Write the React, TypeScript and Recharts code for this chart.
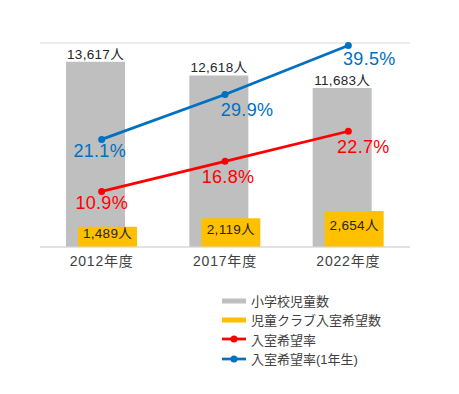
import { ComposedChart, Bar, Line, XAxis, YAxis, CartesianGrid, LabelList, Legend } from 'recharts';

// 年度ごとの児童数と入室希望率
const years = ['2012年度', '2017年度', '2022年度'];
const pupils = [13617, 12618, 11683];
const clubApplicants = [1489, 2119, 2654];
const applyRate = [10.9, 16.8, 22.7];
const applyRateFirst = [21.1, 29.9, 39.5];

const seriesNames = ['小学校児童数', '児童クラブ入室希望数', '入室希望率', '入室希望率(1年生)'];
const countTicks = [0, 3000, 6000, 9000, 12000, 15000];

// label nudges (as placed by hand in the original)
const redNudge = [{ dx: 0, dy: 12 }, { dx: 3, dy: 16 }, { dx: 15, dy: 16 }];
const blueNudge = [{ dx: -2, dy: 12 }, { dx: 22, dy: 15 }, { dx: 21, dy: 13 }];

const GRAY = '#bfbfbf';
const YELLOW = '#ffc000';
const RED = '#ff0000';
const BLUE = '#0070c0';
const FONT = '"Liberation Sans", Arial, "Noto Sans CJK JP", sans-serif';

const data = years.map((year, i) => ({
  year,
  pupils: pupils[i],
  club: clubApplicants[i],
  rate: applyRate[i],
  rateFirst: applyRateFirst[i],
}));

const fmt = (v: number) => v.toLocaleString('en-US') + '人';

function rateLabel(color: string, nudge: { dx: number; dy: number }[], values: number[]) {
  return (props: any) => {
    const { x, y, value } = props;
    let idx = typeof props.index === 'number' ? props.index : values.indexOf(value);
    const n = nudge[idx] || { dx: 0, dy: 12 };
    return (
      <text x={x + n.dx} y={y + n.dy} fill={color} fontSize={18} fontFamily={FONT}
        textAnchor="middle" dominantBaseline="central" letterSpacing={0.3}>
        {value.toFixed(1)}%
      </text>
    );
  };
}

function clubLabel(props: any) {
  const { x, y, width, height, value } = props;
  return (
    <text x={x + width / 2} y={y + height / 2 - 3} fill="#262626" fontSize={13.5} fontFamily={FONT}
      textAnchor="middle" dominantBaseline="central" letterSpacing={0.3}>
      {fmt(value)}
    </text>
  );
}

function pupilLabel(props: any) {
  const { x, y, width, value } = props;
  return (
    <text x={x + width / 2} y={y - 3} fill="#262626" fontSize={13.5} fontFamily={FONT}
      textAnchor="middle" letterSpacing={0.3}>
      {fmt(value)}
    </text>
  );
}

function LegendBox({ payload }: any) {
  const items = [...(payload || [])].sort(
    (a: any, b: any) => seriesNames.indexOf(a.value) - seriesNames.indexOf(b.value));
  return (
    <div style={{ fontFamily: FONT, fontSize: 13, color: '#404040' }}>
      {items.map((entry: any) => (
        <div key={entry.value} style={{ display: 'flex', alignItems: 'center', height: 19.3 }}>
          <svg width={28} height={10} style={{ marginRight: 1 }}>
            {entry.type === 'line' ? (
              <g>
                <line x1={0} y1={5} x2={24} y2={5} stroke={entry.color} strokeWidth={2.75} />
                <circle cx={12} cy={5} r={3.5} fill={entry.color} />
              </g>
            ) : (
              <rect x={0} y={2.5} width={24} height={5} fill={entry.color} />
            )}
          </svg>
          <span>{entry.value}</span>
        </div>
      ))}
    </div>
  );
}

export default function App() {
  return (
    <div style={{ position: 'absolute', left: 0, top: 0, background: '#fff' }}>
      <ComposedChart width={459} height={394} data={data}
        margin={{ top: 43, right: 49, left: 40, bottom: 117 }}
        barGap={-47}>
        <CartesianGrid vertical={false} stroke="#d9d9d9" />
        <XAxis dataKey="year" height={30} axisLine={{ stroke: '#d9d9d9' }} tickLine={false}
          tickMargin={3} tick={{ fill: '#404040', fontSize: 14, fontFamily: FONT, letterSpacing: 0.8 }} />
        <YAxis yAxisId="count" domain={[0, 15000]} ticks={countTicks} hide />
        <YAxis yAxisId="rate" orientation="right" domain={[0, 40]} hide />
        <Legend layout="horizontal" verticalAlign="middle" align="center"
          wrapperStyle={{ left: 222, top: 291, width: 'auto' }} content={<LegendBox />} />
        <Bar yAxisId="count" dataKey="pupils" name={seriesNames[0]} fill={GRAY} barSize={59}
          isAnimationActive={false}>
          <LabelList dataKey="pupils" content={pupilLabel} />
        </Bar>
        <Bar yAxisId="count" dataKey="club" name={seriesNames[1]} fill={YELLOW} barSize={59}
          isAnimationActive={false}>
          <LabelList dataKey="club" content={clubLabel} />
        </Bar>
        <Line yAxisId="rate" dataKey="rate" name={seriesNames[2]} type="linear" stroke={RED}
          strokeWidth={2.75} dot={{ r: 3.5, fill: RED, stroke: RED, strokeWidth: 0 }} legendType="line"
          isAnimationActive={false}>
          <LabelList dataKey="rate" content={rateLabel(RED, redNudge, applyRate)} />
        </Line>
        <Line yAxisId="rate" dataKey="rateFirst" name={seriesNames[3]} type="linear" stroke={BLUE}
          strokeWidth={2.75} dot={{ r: 3.5, fill: BLUE, stroke: BLUE, strokeWidth: 0 }} legendType="line"
          isAnimationActive={false}>
          <LabelList dataKey="rateFirst" content={rateLabel(BLUE, blueNudge, applyRateFirst)} />
        </Line>
      </ComposedChart>
    </div>
  );
}
